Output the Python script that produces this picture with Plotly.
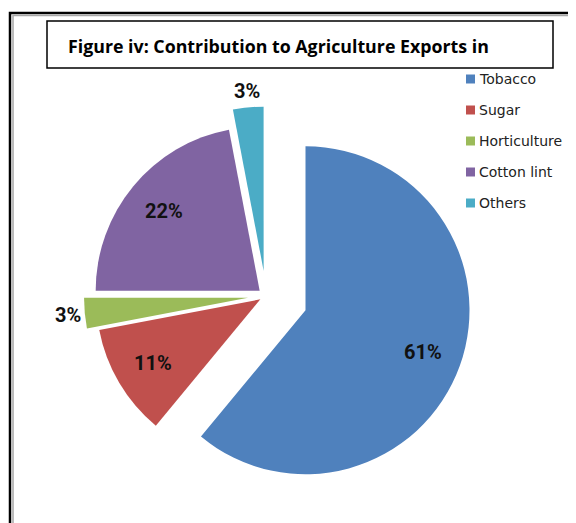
import math
import plotly.graph_objects as go

categories = ["Tobacco", "Sugar", "Horticulture", "Cotton lint", "Others"]
shares = [61, 11, 3, 22, 3]
colors = ["#4F81BD", "#C0504D", "#9BBB59", "#8064A2", "#4BACC6"]
pulls = [0.256, 0.04, 0.11, 0.05, 0.155]
label_inside = [True, True, False, True, False]
title_text = "Figure iv: Contribution to Agriculture Exports in"

# page body has an 8px margin; figure sized to the visible window
OFF = 8
W, H = 576 - OFF, 523 - OFF

def px(x):
    return (x - OFF) / W

def py(y):
    return 1 - (y - OFF) / H

# pie geometry (reference pixel coordinates)
CX, CY, R = 266.0, 296.0, 164.0
half = R * (1 + max(pulls))

fig = go.Figure()
fig.add_trace(go.Pie(
    labels=categories,
    values=shares,
    sort=False,
    direction="clockwise",
    rotation=0,
    pull=pulls,
    marker=dict(colors=colors, line=dict(width=0)),
    textinfo="none",
    domain=dict(x=[px(CX - half), px(CX + half)], y=[py(CY + half), py(CY - half)]),
    automargin=False,
    showlegend=False,
    hoverinfo="label+percent",
))

shapes = []
annotations = []

# percentage labels placed along each slice's mid-angle
total = float(sum(shares))
cum = 0.0
for v, p, inside in zip(shares, pulls, label_inside):
    mid = (cum + v / 2.0) / total * 2 * math.pi
    cum += v
    dx, dy = math.sin(mid), -math.cos(mid)
    f = 0.76 if inside else 1.1
    dist = (p + f) * R
    lx, ly = CX + dist * dx, CY + dist * dy
    annotations.append(dict(xref="paper", yref="paper", x=px(lx), y=py(ly),
                            xanchor="center", yanchor="middle", showarrow=False,
                            text=f"{round(v / total * 100):d}%",
                            font=dict(family="Roboto", size=20, color="#111111", weight="bold")))

# outer frame (black + grey double line)
shapes.append(dict(type="rect", xref="paper", yref="paper",
                   x0=px(10), y0=py(13), x1=px(800), y1=py(800),
                   line=dict(color="#000000", width=2.5)))
shapes.append(dict(type="rect", xref="paper", yref="paper",
                   x0=px(13), y0=py(15.5), x1=px(800), y1=py(800),
                   line=dict(color="#A6A6A6", width=1.5)))
# title box
shapes.append(dict(type="rect", xref="paper", yref="paper",
                   x0=px(47), y0=py(21), x1=px(553), y1=py(68),
                   line=dict(color="#000000", width=1.5)))
annotations.append(dict(xref="paper", yref="paper", x=px(66), y=py(46),
                        xanchor="left", yanchor="middle", showarrow=False,
                        text=title_text,
                        font=dict(family="Open Sans", size=17.8, color="#000000", weight="bold")))

# legend
leg_y0, leg_dy = 79, 31
for i, (lab, col) in enumerate(zip(categories, colors)):
    yc = leg_y0 + i * leg_dy
    shapes.append(dict(type="rect", xref="paper", yref="paper",
                       x0=px(466), x1=px(475), y0=py(yc - 4.5), y1=py(yc + 4.5),
                       fillcolor=col, line=dict(width=0)))
    annotations.append(dict(xref="paper", yref="paper", x=px(477), y=py(yc),
                            xanchor="left", yanchor="middle", showarrow=False,
                            text=lab,
                            font=dict(family="DejaVu Sans", size=14, color="#222222")))

fig.update_layout(
    width=W, height=H,
    margin=dict(l=0, r=0, t=0, b=0, autoexpand=False),
    paper_bgcolor="white",
    plot_bgcolor="white",
    shapes=shapes,
    annotations=annotations,
)

fig.write_html("out.html")
